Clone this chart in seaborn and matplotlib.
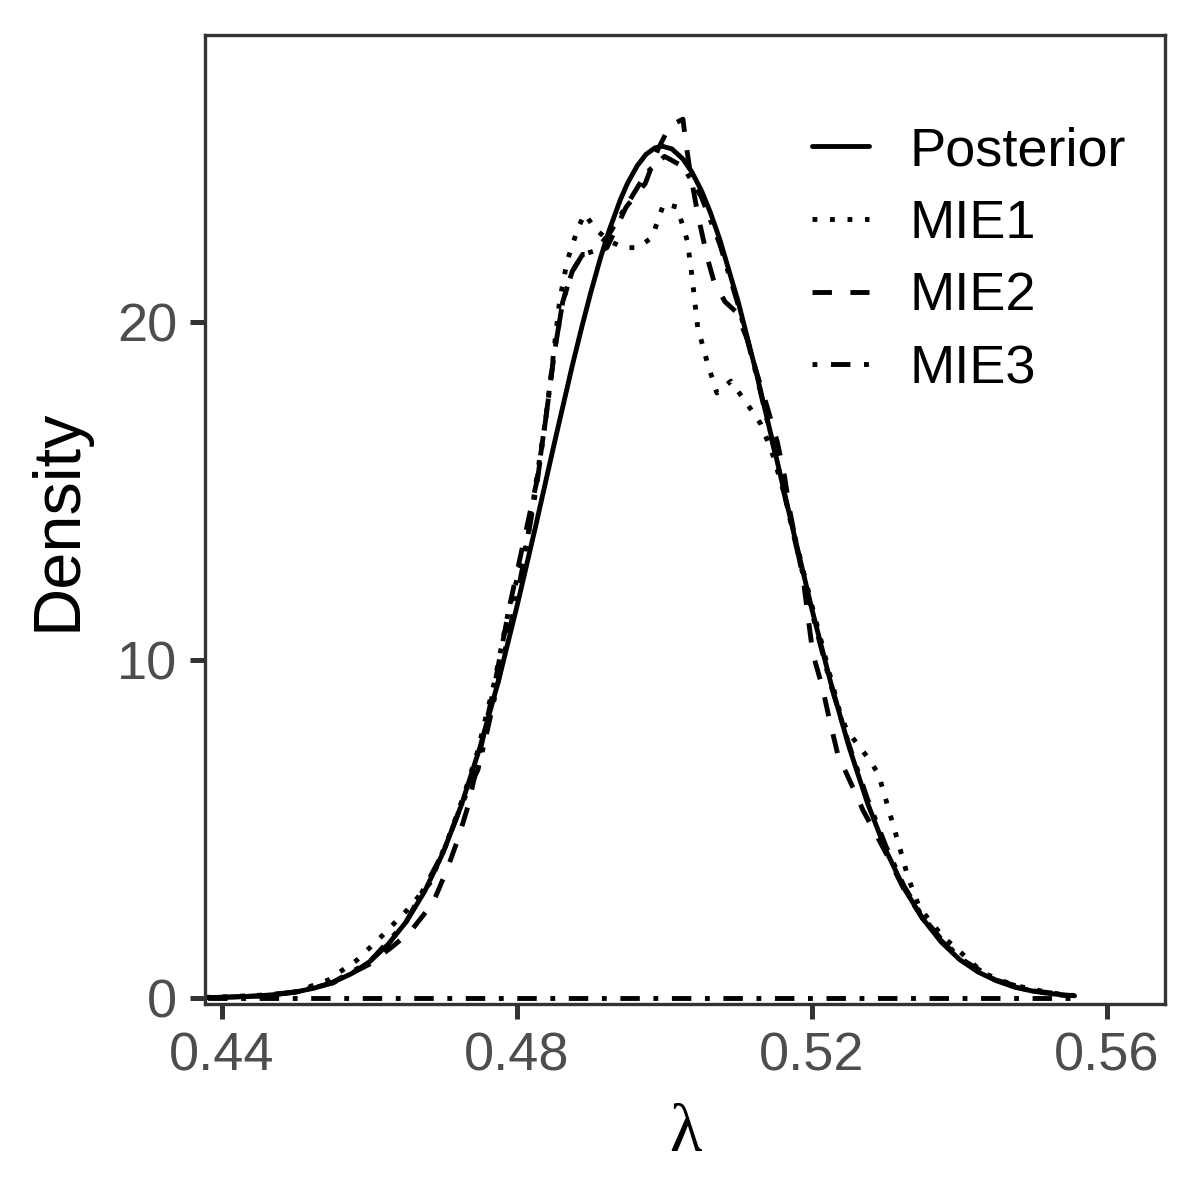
import numpy as np
import pandas as pd
import matplotlib
matplotlib.use("Agg")
import matplotlib.pyplot as plt
import seaborn as sns

# ---- data ----
post_x = [0.4377, 0.4400, 0.4425, 0.4450, 0.4475, 0.4500, 0.4525, 0.4550, 0.4575, 0.4600,
          0.4625, 0.4650, 0.4675, 0.4700, 0.4725, 0.4750, 0.4775, 0.4800, 0.4825, 0.4850,
          0.4875, 0.4888, 0.4900, 0.4913, 0.4925, 0.4940, 0.4950, 0.4963, 0.4975, 0.4987,
          0.4997, 0.5010, 0.5025, 0.5037, 0.5050, 0.5062, 0.5075, 0.5100,
          0.5125, 0.5150, 0.5175, 0.5200, 0.5225, 0.5250, 0.5275, 0.5300, 0.5325, 0.5350,
          0.5375, 0.5400, 0.5425, 0.5450, 0.5475, 0.5500, 0.5525, 0.5556]
post_y = [0.011, 0.020, 0.036, 0.063, 0.107, 0.178, 0.291, 0.461, 0.712, 1.07,
          1.58, 2.26, 3.16, 4.31, 5.73, 7.43, 9.39, 11.59, 13.93, 16.35,
          18.71, 19.86, 20.87, 21.88, 22.71, 23.61, 24.11, 24.62, 24.96, 25.15,
          25.20, 25.12, 24.82, 24.44, 23.89, 23.25, 22.44, 20.59,
          18.45, 16.14, 13.78, 11.49, 9.36, 7.44, 5.78, 4.38, 3.24, 2.35,
          1.66, 1.14, 0.77, 0.51, 0.32, 0.20, 0.124, 0.065]

mie1_x = [0.4377, 0.4400, 0.4450, 0.4476, 0.4499, 0.4544, 0.4583, 0.4618, 0.4651, 0.4682,
          0.4710, 0.4728, 0.4746, 0.4770, 0.4788, 0.4814, 0.4838, 0.4845, 0.4858, 0.4868,
          0.4883, 0.4892, 0.4906, 0.4925, 0.4944, 0.4964, 0.4983, 0.4999, 0.5017, 0.5031,
          0.5037, 0.5045, 0.5058, 0.5071, 0.5090, 0.5116, 0.5130, 0.5145, 0.5160, 0.5175,
          0.5200, 0.5225, 0.5238, 0.5247, 0.5276, 0.5290, 0.5303, 0.5317, 0.5330, 0.5346,
          0.5378, 0.5394, 0.5432, 0.5473, 0.5523, 0.5556]
mie1_y = [0.02, 0.03, 0.08, 0.12, 0.18, 0.53, 1.12, 1.86, 2.60, 3.40,
          4.90, 6.00, 7.25, 9.40, 11.40, 13.55, 17.00, 18.20, 20.65, 21.80,
          22.80, 23.20, 22.75, 22.40, 22.20, 22.20, 22.50, 23.50, 23.40, 22.40,
          21.40, 19.85, 18.80, 17.90, 18.25, 17.45, 17.00, 16.20, 15.10, 13.80,
          11.60, 9.50, 8.43, 7.93, 7.10, 6.63, 5.65, 4.59, 3.58, 2.66,
          1.80, 1.50, 0.74, 0.38, 0.15, 0.07]

mie2_x = [0.4377, 0.4400, 0.4450, 0.4500, 0.4550, 0.4600, 0.4630, 0.4655, 0.4686, 0.4705,
          0.4720, 0.4734, 0.4750, 0.4770, 0.4790, 0.4810, 0.4827, 0.4840, 0.4850, 0.4862,
          0.4875, 0.4889, 0.4905, 0.4922, 0.4948, 0.4974, 0.4991, 0.5007, 0.5025, 0.5029,
          0.5035, 0.5045, 0.5058, 0.5067, 0.5082, 0.5097, 0.5112, 0.5125, 0.5139, 0.5153,
          0.5163, 0.5170, 0.5188, 0.5201, 0.5214, 0.5223, 0.5235, 0.5256, 0.5269, 0.5300,
          0.5325, 0.5350, 0.5375, 0.5400, 0.5450, 0.5500, 0.5556]
mie2_y = [0.01, 0.02, 0.06, 0.17, 0.44, 1.00, 1.50, 1.95, 2.81, 3.79,
          4.70, 5.70, 7.30, 9.30, 11.60, 13.60, 15.30, 17.30, 19.00, 20.60,
          21.50, 22.00, 22.00, 22.20, 23.40, 24.10, 25.10, 25.80, 26.00, 25.30,
          24.40, 23.20, 21.90, 21.20, 20.60, 20.30, 19.50, 18.50, 17.50, 16.45,
          15.40, 14.40, 12.40, 10.20, 9.20, 8.30, 7.20, 6.20, 5.56, 4.30,
          3.20, 2.35, 1.70, 1.18, 0.53, 0.21, 0.07]

mie3_x = [0.4377, 0.4400, 0.4450, 0.4500, 0.4550, 0.4600, 0.4650, 0.4700, 0.4725, 0.4747,
          0.4759, 0.4780, 0.4800, 0.4810, 0.4827, 0.4840, 0.4850, 0.4862, 0.4875, 0.4889,
          0.4905, 0.4925, 0.4950, 0.4975, 0.5000, 0.5025, 0.5050, 0.5075, 0.5100, 0.5125,
          0.5150, 0.5175, 0.5200, 0.5225, 0.5250, 0.5275, 0.5300, 0.5325, 0.5350, 0.5375,
          0.5400, 0.5425, 0.5450, 0.5475, 0.5500, 0.5550]
mie3_y = [0.01, 0.02, 0.06, 0.18, 0.46, 1.07, 2.26, 4.31, 5.73, 6.75,
          7.84, 9.90, 11.90, 13.00, 15.20, 17.30, 19.00, 20.60, 21.50, 22.00,
          22.10, 22.60, 23.50, 24.40, 24.90, 24.60, 23.70, 22.30, 20.50, 18.40,
          16.10, 13.70, 11.40, 9.30, 7.50, 5.90, 4.50, 3.30, 2.40, 1.75,
          1.20, 0.80, 0.52, 0.33, 0.20, 0.05]

series_names = ["Posterior", "MIE1", "MIE2", "MIE3"]
x_ticks = [0.44, 0.48, 0.52, 0.56]
x_tick_labels = ["0.44", "0.48", "0.52", "0.56"]
y_ticks = [0, 10, 20]
y_tick_labels = ["0", "10", "20"]

frames = []
for name, xs, ys in zip(series_names, [post_x, mie1_x, mie2_x, mie3_x],
                        [post_y, mie1_y, mie2_y, mie3_y]):
    frames.append(pd.DataFrame({"lam": xs, "dens": ys, "series": name}))
df = pd.concat(frames, ignore_index=True)

sns.set_theme(style="white")
plt.rcParams["font.family"] = ["Liberation Sans", "DejaVu Sans"]

fig = plt.figure(figsize=(6, 6), dpi=200)
ax = fig.add_axes([205 / 1200, 1 - 1004 / 1200, 960 / 1200, 969 / 1200])

dash_map = {"Posterior": "", "MIE1": (1, 2.6), "MIE2": (4, 3.8), "MIE3": (1, 2.8, 4, 2.8)}
LW = 1.75
sns.lineplot(data=df, x="lam", y="dens", style="series", style_order=series_names,
             dashes=dash_map, color="black", linewidth=LW, estimator=None,
             ax=ax, legend=True)

# MIE3 density outline closes along the baseline
ax.plot([max(mie3_x), min(mie3_x)], [0, 0], color="black", linewidth=LW,
        dashes=dash_map["MIE3"])

ax.set_xlim(0.4377, 0.56786)
ax.set_ylim(-0.178, 28.49)
ax.set_xticks(x_ticks)
ax.set_xticklabels(x_tick_labels)
ax.set_yticks(y_ticks)
ax.set_yticklabels(y_tick_labels)

for s in ax.spines.values():
    s.set_color("#333333")
    s.set_linewidth(1.2)
ax.tick_params(axis="both", which="major", direction="out", length=5.5, width=1.8,
               color="#333333", labelcolor="#4D4D4D", labelsize=19.5, pad=4.5,
               bottom=True, left=True)

ax.set_xlabel("λ", fontsize=24, color="black", family=["Liberation Serif", "DejaVu Serif"],
              labelpad=8)
ax.set_ylabel("Density", fontsize=24, color="black", labelpad=10)

handles, labels = ax.get_legend_handles_labels()
if ax.get_legend() is not None:
    ax.get_legend().remove()
for h in handles:
    h.set_linewidth(LW)
leg = ax.legend(handles, labels, loc="upper left",
                bbox_to_anchor=((812 - 205) / 960, 1 - (126 - 35) / 969),
                frameon=False, fontsize=19.5, handlelength=1.05, handletextpad=0.75,
                labelspacing=0.42, borderaxespad=0, borderpad=0)
for t in leg.get_texts():
    t.set_color("black")

fig.savefig("out.png", dpi=200)
